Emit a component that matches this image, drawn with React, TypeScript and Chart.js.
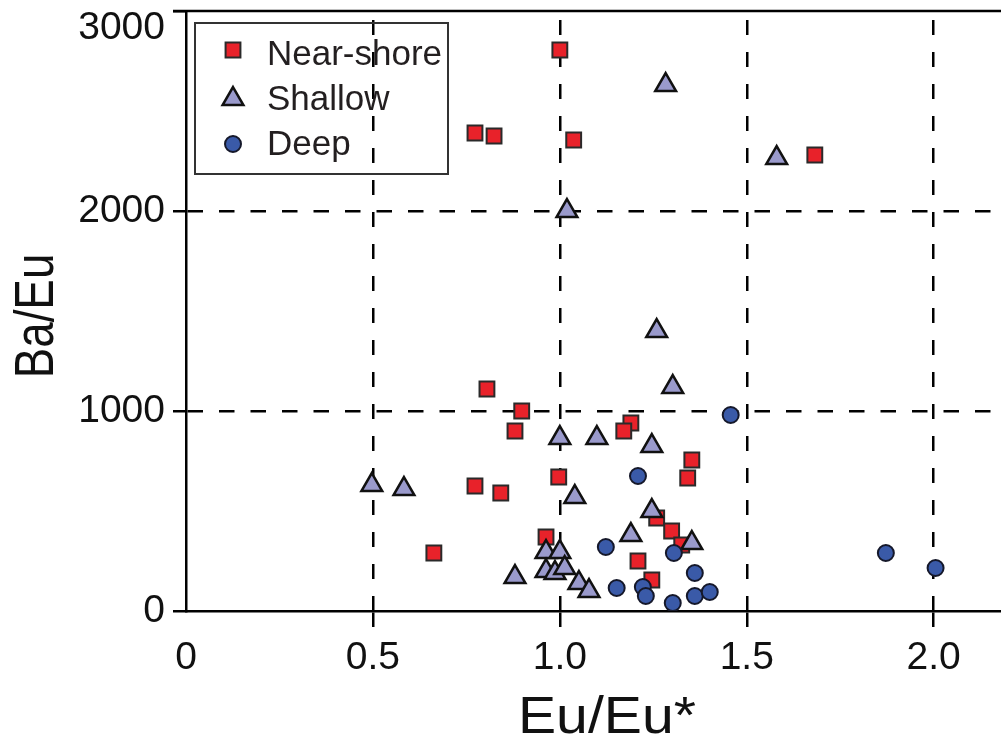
import React, { useEffect, useRef } from 'react';
import { Chart, registerables } from 'chart.js';
import { drawPoint } from 'chart.js/helpers';

Chart.register(...registerables);

const seriesNames = ['Near-shore', 'Shallow', 'Deep'];

const nearShoreX = [1.0, 0.773, 0.824, 1.037, 1.682, 0.805, 0.898, 0.88, 1.19, 1.171, 0.773, 0.842, 0.997, 1.353, 1.342, 0.663, 0.963, 1.259, 1.299, 1.326, 1.209, 1.246];
const nearShoreY = [2805, 2390, 2375, 2355, 2280, 1110, 1000, 900, 940, 900, 625, 590, 670, 755, 665, 290, 370, 465, 400, 330, 250, 155];

const shallowX = [1.283, 1.58, 1.019, 1.259, 1.302, 1.0, 1.099, 1.246, 0.497, 0.583, 1.04, 1.246, 1.19, 1.353, 0.88, 0.963, 1.0, 0.963, 0.987, 1.013, 1.051, 1.078];
const shallowY = [2630, 2265, 2000, 1400, 1120, 865, 865, 825, 630, 610, 570, 500, 380, 340, 170, 295, 295, 200, 190, 215, 140, 100];

const deepX = [1.457, 1.209, 1.123, 1.305, 1.361, 1.152, 1.222, 1.23, 1.302, 1.361, 1.401, 1.872, 2.005];
const deepY = [980, 675, 320, 290, 190, 115, 120, 75, 40, 75, 95, 290, 215];

const xTickValues = [0, 0.5, 1.0, 1.5, 2.0];
const xTickLabels = ['0', '0.5', '1.0', '1.5', '2.0'];
const yTickValues = [0, 1000, 2000, 3000];
const yTickLabels = ['0', '1000', '2000', '3000'];
const xTitle = 'Eu/Eu*';
const yTitle = 'Ba/Eu';

const FONT = "'Liberation Sans', Arial, Helvetica, sans-serif";

const toPoints = (xs: number[], ys: number[]) => xs.map((x, i) => ({ x, y: ys[i] }));

const decorPlugin = {
  id: 'decor',
  afterDraw(chart: any) {
    const { ctx, chartArea, scales } = chart;
    const ys = scales.y;
    ctx.save();
    // top frame line
    ctx.strokeStyle = '#000';
    ctx.lineWidth = 2.5;
    ctx.beginPath();
    ctx.moveTo(chartArea.left - 13, chartArea.top);
    ctx.lineTo(chartArea.right, chartArea.top);
    ctx.stroke();

    // y tick labels
    ctx.fillStyle = '#111';
    ctx.font = `39px ${FONT}`;
    ctx.textAlign = 'right';
    ctx.textBaseline = 'middle';
    yTickValues.forEach((v, i) => {
      let py = ys.getPixelForValue(v);
      py = Math.max(py, 28);
      ctx.fillText(yTickLabels[i], chartArea.left - 21, py);
    });

    // axis titles
    ctx.font = `52px ${FONT}`;
    ctx.textAlign = 'center';
    ctx.textBaseline = 'alphabetic';
    ctx.save();
    ctx.translate(607, 733);
    ctx.scale(1.1, 1);
    ctx.fillText(xTitle, 0, 0);
    ctx.restore();
    ctx.save();
    ctx.translate(53, 316);
    ctx.rotate(-Math.PI / 2);
    ctx.scale(0.88, 1.05);
    ctx.fillText(yTitle, 0, 0);
    ctx.restore();

    // legend
    const lx = 195, ly = 23, lw = 253, lh = 151;
    ctx.strokeStyle = '#333';
    ctx.lineWidth = 2;
    ctx.strokeRect(lx, ly, lw, lh);
    const rowY = [50, 99, 144];
    const textBase = [65, 110, 155];
    chart.data.datasets.forEach((ds: any) => {
      const idx = seriesNames.indexOf(ds.label);
      ctx.save();
      ctx.fillStyle = ds.backgroundColor;
      ctx.strokeStyle = ds.borderColor;
      ctx.lineWidth = ds.borderWidth;
      drawPoint(ctx, { pointStyle: ds.pointStyle, radius: ds.pointRadius, borderWidth: ds.borderWidth, rotation: 0 }, 233, rowY[idx]);
      ctx.restore();
      ctx.fillStyle = '#231f20';
      ctx.font = `35px ${FONT}`;
      ctx.textAlign = 'left';
      ctx.textBaseline = 'alphabetic';
      ctx.fillText(ds.label, 267, textBase[idx]);
    });
    ctx.restore();
  },
};

export default function App() {
  const ref = useRef<HTMLCanvasElement | null>(null);
  useEffect(() => {
    if (!ref.current) return;
    const chart = new Chart(ref.current, {
      type: 'scatter',
      data: {
        datasets: [
          {
            label: seriesNames[0],
            data: toPoints(nearShoreX, nearShoreY),
            pointStyle: 'rect',
            pointRadius: 10.5,
            pointHoverRadius: 10.5,
            backgroundColor: '#e8222a',
            borderColor: '#2a2a2a',
            borderWidth: 2,
            order: 3,
          },
          {
            label: seriesNames[1],
            data: toPoints(shallowX, shallowY),
            pointStyle: 'triangle',
            pointRadius: 12,
            pointHoverRadius: 12,
            backgroundColor: '#9a9acc',
            borderColor: '#111',
            borderWidth: 2.5,
            order: 2,
          },
          {
            label: seriesNames[2],
            data: toPoints(deepX, deepY),
            pointStyle: 'circle',
            pointRadius: 8,
            pointHoverRadius: 8,
            backgroundColor: '#3a5aa8',
            borderColor: '#15182a',
            borderWidth: 2,
            order: 1,
          },
        ],
      },
      options: {
        responsive: false,
        animation: false,
        devicePixelRatio: 1,
        layout: { autoPadding: false, padding: { top: 11, right: 0, left: 0, bottom: 0 } },
        plugins: { legend: { display: false }, tooltip: { enabled: false }, title: { display: false } },
        events: [],
        scales: {
          x: {
            type: 'linear',
            position: 'bottom',
            min: 0,
            max: 2.18,
            z: 1,
            afterBuildTicks: (s: any) => {
              s.ticks = xTickValues.map((v) => ({ value: v }));
            },
            afterFit: (s: any) => {
              s.height = 127;
              s.paddingLeft = 0;
              s.paddingRight = 0;
            },
            ticks: {
              autoSkip: false,
              maxRotation: 0,
              padding: 8,
              color: '#111',
              font: { family: FONT, size: 39 },
              callback: (v: any) => xTickLabels[xTickValues.indexOf(Number(v))],
            },
            grid: {
              color: (c: any) => (c.tick && c.tick.value === 0 ? 'rgba(0,0,0,0)' : '#000'),
              lineWidth: 2.5,
              drawTicks: true,
              tickLength: 16,
              tickWidth: 2.5,
              tickColor: (c: any) => (c.tick && c.tick.value === 0 ? 'rgba(0,0,0,0)' : '#000'),
            },
            border: { display: true, color: '#000', width: 2.5, dash: [15, 17], dashOffset: 23 },
          },
          y: {
            type: 'linear',
            min: 0,
            max: 3000,
            z: 1,
            afterBuildTicks: (s: any) => {
              s.ticks = yTickValues.map((v) => ({ value: v }));
            },
            afterFit: (s: any) => {
              s.width = 186;
              s.paddingTop = 0;
              s.paddingBottom = 0;
            },
            ticks: { display: false },
            grid: {
              color: (c: any) => (c.tick && (c.tick.value === 1000 || c.tick.value === 2000) ? '#000' : 'rgba(0,0,0,0)'),
              lineWidth: 2.5,
              drawTicks: true,
              tickLength: 13,
              tickWidth: 2.5,
              tickColor: '#000',
            },
            border: { display: true, color: '#000', width: 2.5, dash: [15.5, 16], dashOffset: 0 },
          },
        },
      },
      plugins: [decorPlugin],
    } as any);
    return () => chart.destroy();
  }, []);
  return (
    <div style={{ position: 'fixed', left: 0, top: 0, width: 1001, height: 738, background: '#fff' }}>
      <canvas ref={ref} width={1001} height={738} style={{ display: 'block' }} />
    </div>
  );
}
